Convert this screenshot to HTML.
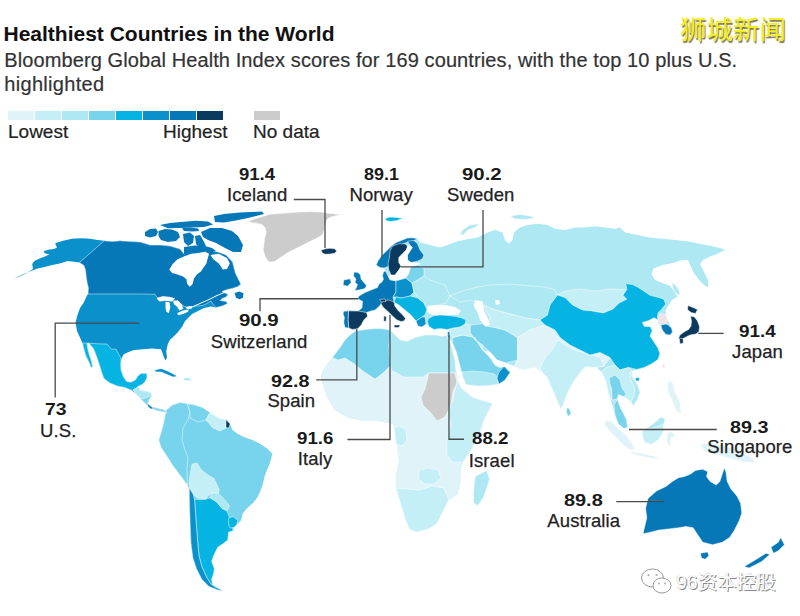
<!DOCTYPE html>
<html><head><meta charset="utf-8"><style>
html,body{margin:0;padding:0;background:#fff;}
body{width:800px;height:616px;position:relative;overflow:hidden;font-family:"Liberation Sans",Arial,sans-serif;color:#1a1a1a;}
.t{position:absolute;white-space:nowrap;}
.num{font-weight:bold;font-size:17px;line-height:1;color:#1a1a1a;}
.nm{font-size:18.5px;line-height:1;color:#222;letter-spacing:0.1px;-webkit-text-stroke:0.25px #222;}
svg{position:absolute;left:0;top:0;}
</style></head><body>
<svg width="800" height="616" viewBox="0 0 800 616">
<g id="map" stroke="none">
<polygon fill="#0a90cb" points="55.5,243.0 63.0,240.8 72.0,238.8 81.0,238.2 90.0,238.8 97.5,240.0 104.2,240.8 112.5,241.5 120.0,240.8 130.0,241.5 140.0,242.0 150.0,245.0 160.0,245.0 170.0,246.0 180.0,249.0 184.0,254.0 190.0,252.0 200.0,250.0 210.0,251.0 218.0,252.0 226.0,255.0 232.5,262.0 235.3,273.0 238.0,278.5 240.8,284.0 238.0,286.5 232.0,288.5 227.0,289.5 222.0,291.5 225.0,293.0 228.0,294.5 226.0,297.0 222.0,298.5 220.0,300.5 226.0,301.5 227.5,303.5 222.0,306.0 216.0,307.5 211.0,306.5 204.0,308.0 198.0,311.0 192.0,314.0 188.0,318.0 185.0,321.0 182.5,326.0 178.0,332.0 172.0,338.0 170.0,339.5 167.8,344.0 166.2,351.5 167.0,357.5 165.5,360.5 164.0,357.5 162.5,353.0 161.0,349.2 152.0,348.5 143.0,349.2 134.0,350.0 128.0,352.2 123.5,354.5 121.2,359.0 120.5,365.0 121.2,371.0 123.5,377.0 126.5,381.5 131.0,382.2 135.5,380.0 138.0,376.0 141.0,373.5 146.5,373.5 147.0,377.5 145.0,381.5 142.0,384.5 138.5,386.0 140.0,390.5 146.0,391.2 150.5,392.8 152.0,395.0 149.0,399.5 147.5,404.0 152.0,407.0 158.0,408.5 164.0,410.0 167.0,413.0 162.5,411.5 158.0,410.8 153.5,409.2 149.0,407.0 144.5,402.5 140.0,398.0 135.5,393.5 131.0,390.0 125.0,387.5 117.5,386.0 110.0,383.0 104.0,378.5 101.8,372.5 99.5,365.0 96.5,356.0 93.5,348.5 89.0,343.2 87.0,343.5 87.5,348.0 89.0,354.0 91.0,360.0 92.5,366.5 91.2,367.5 89.0,362.0 86.0,356.0 84.0,349.5 82.5,343.0 81.5,341.0 80.0,337.5 77.0,331.0 75.5,322.5 77.5,315.0 80.0,308.0 83.8,302.5 86.2,297.0 88.0,294.0 88.5,288.0 87.0,282.0 86.2,276.0 85.5,270.0 84.0,265.5 79.5,262.5 73.5,261.8 67.5,261.0 63.0,262.5 58.5,263.7 51.0,265.2 43.5,267.3 37.5,268.5 30.0,271.5 22.5,274.5 15.0,278.2 13.5,279.0 19.5,276.5 27.0,273.0 33.0,269.0 32.2,264.0 34.5,261.0 39.0,258.8 45.0,256.5 49.5,254.2 45.0,253.5 43.5,251.2 48.0,249.8 54.0,249.0 57.0,247.5 55.5,244.5"/>
<polygon fill="#0678b8" stroke="#fff" stroke-width="0.6" stroke-opacity="0.8" stroke-linejoin="round" points="104.2,240.8 112.5,241.5 120.0,240.8 130.0,241.5 140.0,242.0 150.0,245.0 160.0,245.0 170.0,246.0 180.0,249.0 184.0,254.0 190.0,252.0 200.0,250.0 210.0,251.0 218.0,252.0 226.0,255.0 232.5,262.0 235.3,273.0 238.0,278.5 240.8,284.0 238.0,286.5 232.0,288.5 227.0,289.5 222.0,291.5 225.0,293.0 228.0,294.5 226.0,297.0 222.0,298.5 220.0,300.5 226.0,301.5 227.5,303.5 222.0,306.0 216.0,307.5 213.0,304.0 211.0,301.0 208.0,303.0 203.0,305.5 197.0,306.0 192.0,307.0 186.0,307.0 182.0,305.0 178.0,302.0 175.0,301.0 172.0,299.0 165.0,297.0 157.0,297.5 155.0,294.3 140.0,294.0 120.0,294.0 100.0,294.0 88.0,294.0 88.5,288.0 87.0,282.0 86.2,276.0 85.5,270.0 84.0,265.5 79.5,262.5"/>
<polygon fill="#06b4e4" stroke="#fff" stroke-width="0.6" stroke-opacity="0.8" stroke-linejoin="round" points="89.0,343.2 98.0,343.8 107.0,344.0 111.5,349.2 116.0,349.2 120.5,357.5 121.2,359.0 120.5,365.0 121.2,371.0 123.5,377.0 126.5,381.5 131.0,382.2 135.5,380.0 138.0,376.0 141.0,373.5 146.5,373.5 147.0,377.5 145.0,381.5 142.0,384.5 138.5,386.0 137.0,388.0 133.0,390.0 131.0,390.0 125.0,387.5 117.5,386.0 110.0,383.0 104.0,378.5 101.8,372.5 99.5,365.0 96.5,356.0 93.5,348.5 89.0,343.2 87.0,343.5 87.5,348.0 89.0,354.0 91.0,360.0 92.5,366.5 91.2,367.5 89.0,362.0 86.0,356.0 84.0,349.5 82.5,343.0"/>
<polygon fill="#0678b8" points="145.0,232.0 150.0,229.0 156.0,228.5 158.0,232.0 156.0,236.0 150.0,237.5 145.0,236.0"/>
<polygon fill="#0678b8" points="158.5,231.0 165.0,229.0 172.0,229.5 178.0,232.0 180.0,237.0 176.0,241.0 168.0,242.0 161.0,240.0 158.5,236.0"/>
<polygon fill="#0678b8" points="183.0,234.0 190.0,232.5 194.0,236.0 193.0,243.0 188.0,246.0 184.0,242.0"/>
<polygon fill="#0678b8" points="201.0,232.0 210.0,228.0 222.0,228.0 232.0,231.0 238.0,236.0 243.0,245.0 241.0,252.0 233.0,252.0 225.0,248.0 216.0,243.0 208.0,240.0 203.0,237.0"/>
<polygon fill="#0678b8" points="214.0,216.0 224.0,214.0 240.0,212.4 262.0,211.6 264.0,214.0 248.0,218.0 236.0,220.5 224.0,222.5 215.0,222.0"/>
<polygon fill="#0678b8" points="160.0,225.0 170.0,223.0 184.0,221.8 196.0,220.8 208.0,221.5 213.0,224.5 204.0,227.0 192.0,227.5 180.0,228.0 168.0,228.2"/>
<polygon fill="#0678b8" points="182.0,228.0 190.0,227.5 198.0,228.5 199.0,231.0 192.0,231.5 184.0,231.0"/>
<polygon fill="#0678b8" points="195.0,236.0 200.0,235.0 203.0,240.0 206.0,246.0 200.0,248.0 196.0,244.0"/>
<polygon fill="#0678b8" points="184.0,247.0 195.0,245.5 205.0,246.0 212.0,248.0 216.0,251.0 210.0,253.0 204.0,252.0 198.0,253.0 190.0,254.0 184.0,254.0"/>
<polygon fill="#fff" points="169.3,269.6 172.7,264.1 177.5,259.3 184.4,256.2 191.3,253.8 198.1,253.1 205.0,251.7 209.1,253.8 207.8,257.9 206.4,263.4 203.6,267.5 200.9,271.6 196.8,274.4 194.0,278.5 192.6,284.0 189.9,286.8 187.1,284.0 186.5,279.2 183.0,276.5 177.5,274.4 172.0,273.0"/>
<polygon fill="#fff" points="210.5,255.1 218.8,253.8 227.0,257.9 229.8,263.4 227.0,268.9 222.9,269.6 218.8,263.4 213.3,259.3"/>
<polygon fill="#fff" points="156.5,298.5 162.4,296.2 169.3,296.8 175.0,298.3 172.3,301.5 165.1,300.8 159.6,301.5"/>
<polygon fill="#fff" points="165.5,301.7 169.5,302.3 170.3,307.4 168.8,313.2 166.3,311.8 165.5,307.4"/>
<polygon fill="#fff" points="173.2,301.0 177.7,300.2 181.9,304.4 183.3,308.8 179.6,310.5 176.6,306.2 173.9,304.2"/>
<polygon fill="#fff" points="177.3,313.0 183.0,310.5 188.8,309.2 188.0,311.8 183.2,313.9 178.0,315.3"/>
<polygon fill="#fff" points="185.6,307.2 189.9,306.0 192.9,306.5 191.5,308.7 187.0,309.0"/>
<polygon fill="#0678b8" points="234.6,292.9 239.4,291.5 243.5,293.3 242.9,297.8 239.4,299.3 236.0,297.8"/>
<polygon fill="#0a90cb" points="155.0,370.2 161.0,368.8 167.0,371.0 173.0,374.0 176.8,376.2 173.0,376.7 167.0,374.3 161.0,371.8 155.8,371.8"/>
<polygon fill="#aee8f2" points="183.5,378.3 188.0,378.0 191.0,379.0 190.0,380.5 185.0,380.5"/>
<polygon fill="#cccccc" stroke="#fff" stroke-width="0.6" stroke-opacity="0.8" stroke-linejoin="round" points="249.0,221.0 255.0,218.8 262.5,216.5 270.0,214.2 279.0,213.5 289.5,212.8 300.0,212.0 310.5,211.7 321.0,212.0 330.0,213.5 337.5,214.2 343.5,214.5 336.0,215.8 330.0,217.2 327.0,219.5 325.5,224.0 324.0,230.0 322.5,234.5 318.0,237.5 312.0,240.5 306.0,243.5 300.0,246.5 294.0,249.5 288.0,252.5 283.5,255.5 279.0,258.5 274.5,261.5 270.0,262.2 267.0,260.0 264.8,255.5 263.2,249.5 264.0,243.5 264.8,237.5 266.2,233.0 265.5,228.5 262.5,224.8 256.5,223.2 250.5,222.5"/>
<polygon fill="#0b3a5e" stroke="#fff" stroke-width="0.6" stroke-opacity="0.8" stroke-linejoin="round" points="321.0,250.2 325.5,248.8 330.0,248.3 334.5,248.8 336.8,251.0 334.5,253.2 330.0,254.0 325.5,254.3 322.5,253.2"/>
<polygon fill="#aee8f2" points="345.0,327.5 343.8,322.5 344.4,317.5 343.1,313.8 343.8,311.2 350.0,310.6 358.0,311.0 362.0,308.0 362.5,301.2 357.5,298.8 358.8,296.2 365.0,292.5 371.2,290.0 377.5,287.5 379.0,284.0 382.0,282.0 383.5,279.0 382.5,276.0 383.5,272.0 385.5,271.0 384.0,268.0 380.0,267.5 376.2,265.0 378.0,261.0 381.2,256.2 386.2,251.2 391.2,246.2 396.2,242.5 402.5,240.0 407.5,238.1 412.5,237.8 417.5,238.8 420.0,242.5 430.0,245.0 440.0,247.5 447.5,245.0 457.5,241.2 470.0,238.8 477.5,237.5 482.5,235.0 487.5,232.5 495.0,230.0 502.5,232.5 505.0,240.0 508.8,243.8 512.5,240.0 513.8,232.5 520.0,227.5 527.5,225.0 537.5,223.8 547.5,225.0 555.0,228.8 565.0,230.0 575.0,227.5 585.0,227.5 595.0,226.2 605.0,227.5 615.0,228.8 620.0,227.5 625.0,232.5 637.5,235.0 650.0,237.5 662.5,238.8 675.0,240.0 687.5,241.2 700.0,243.8 712.5,246.2 722.5,248.8 725.0,250.0 717.5,253.8 710.0,256.5 703.0,260.0 700.0,264.0 704.0,272.0 708.0,280.0 708.5,287.0 705.0,286.0 699.0,280.0 694.0,273.0 691.0,267.0 688.0,260.0 680.0,260.5 674.0,262.7 662.7,265.0 653.6,268.4 651.4,274.0 654.8,279.8 662.7,283.2 669.5,285.5 674.0,291.0 677.5,296.8 672.0,300.0 668.0,306.0 665.5,311.0 666.0,315.0 667.5,320.0 671.5,328.0 672.5,332.0 670.0,335.0 666.0,334.5 663.0,331.0 661.5,328.0 659.0,324.0 657.5,320.0 654.0,317.7 648.2,320.7 642.3,322.6 644.3,326.5 650.1,326.5 652.1,330.4 650.1,336.2 654.0,342.1 657.9,347.9 659.9,353.8 657.9,359.6 652.1,363.5 644.3,367.4 636.5,369.4 632.0,371.0 633.2,378.6 637.7,385.5 640.0,392.3 637.7,399.0 633.2,405.9 630.9,401.4 624.1,396.8 618.4,394.5 617.3,399.0 619.5,405.9 623.0,412.7 626.4,419.5 627.5,427.5 624.1,428.6 618.4,424.1 615.0,415.0 612.7,405.9 610.5,399.0 608.2,392.3 605.9,380.9 601.4,371.8 596.8,367.3 590.0,367.3 586.0,366.5 582.0,370.0 577.0,377.0 572.0,384.0 569.0,390.0 566.0,397.0 563.5,404.0 561.0,409.5 559.0,405.0 555.0,395.0 550.5,385.0 547.0,377.0 542.5,372.5 535.0,367.5 522.5,370.0 514.0,366.0 506.0,363.0 505.0,366.2 510.0,372.5 505.0,380.0 497.0,384.5 488.0,385.5 478.0,386.0 466.0,384.5 463.0,377.0 460.0,366.0 457.0,354.0 452.5,342.5 448.0,337.5 451.0,345.0 454.0,358.0 456.0,370.0 458.0,380.0 461.0,388.0 466.0,392.0 472.0,397.0 480.0,400.0 488.0,402.0 492.5,403.5 489.0,410.0 484.0,420.0 477.9,438.5 469.1,453.1 463.3,461.9 460.4,470.6 460.4,482.3 457.4,494.0 448.7,499.9 442.8,511.6 437.0,523.3 428.2,529.1 416.5,532.0 409.2,529.1 404.8,517.4 400.4,502.8 396.0,488.2 396.0,476.5 399.0,461.9 397.5,447.3 396.0,432.6 393.1,423.9 378.5,421.0 363.9,421.0 349.2,418.0 340.0,413.0 334.6,409.2 327.0,397.0 323.0,385.0 321.0,376.0 324.0,369.0 327.5,364.0 332.5,357.5 340.0,347.5 345.0,340.0 350.0,335.0 355.0,331.2 362.5,330.0 372.5,328.8 382.5,328.8 390.0,330.0 395.0,335.0 400.0,340.0 407.5,341.2 415.0,337.5 425.0,335.0 435.0,335.0 442.5,336.2 447.0,335.5 448.8,331.0 450.0,329.0 447.0,329.5 440.0,328.5 434.0,329.5 429.0,326.5 426.0,324.0 422.0,327.0 418.0,326.0 416.0,321.0 411.0,315.0 405.0,310.0 399.0,305.0 394.0,302.0 394.8,306.0 398.5,311.0 402.5,314.8 405.5,318.5 404.0,321.0 401.0,321.5 397.0,320.0 392.5,316.0 387.5,311.0 383.0,307.0 381.0,303.5 378.0,307.5 375.0,310.0 370.0,311.2 366.5,312.5 367.5,316.2 363.8,320.0 361.2,325.0 357.5,328.8 352.5,329.4 348.8,328.1"/>
<polygon fill="#e0f3f9" points="448.0,337.5 451.0,345.0 454.0,358.0 456.0,370.0 458.0,380.0 461.0,388.0 466.0,392.0 472.0,397.0 480.0,400.0 488.0,402.0 492.5,403.5 489.0,410.0 484.0,420.0 477.9,438.5 469.1,453.1 463.3,461.9 460.4,470.6 460.4,482.3 457.4,494.0 448.7,499.9 442.8,511.6 437.0,523.3 428.2,529.1 416.5,532.0 409.2,529.1 404.8,517.4 400.4,502.8 396.0,488.2 396.0,476.5 399.0,461.9 397.5,447.3 396.0,432.6 393.1,423.9 378.5,421.0 363.9,421.0 349.2,418.0 340.0,413.0 334.6,409.2 327.0,397.0 323.0,385.0 321.0,376.0 324.0,369.0 327.5,364.0 332.5,357.5 340.0,347.5 345.0,340.0 350.0,335.0 355.0,331.2 362.5,330.0 372.5,328.8 382.5,328.8 390.0,330.0 395.0,335.0 400.0,340.0 407.5,341.2 415.0,337.5 425.0,335.0 435.0,335.0 442.5,336.2 447.0,335.5"/>
<polygon fill="#78d3ec" stroke="#fff" stroke-width="0.6" stroke-opacity="0.8" stroke-linejoin="round" points="332.5,357.5 340.0,347.5 345.0,340.0 350.0,335.0 355.0,331.2 362.5,330.0 372.5,328.8 382.5,328.8 390.0,330.0 391.0,336.0 389.0,345.0 391.0,365.0 383.0,373.0 375.0,379.0 363.0,371.0 353.0,363.0 345.0,358.0 338.0,360.0"/>
<polygon fill="#aee8f2" stroke="#fff" stroke-width="0.6" stroke-opacity="0.8" stroke-linejoin="round" points="390.0,330.0 395.0,335.0 400.0,340.0 407.5,341.2 415.0,337.5 425.0,335.0 435.0,335.0 442.5,336.2 447.0,335.5 448.0,337.5 451.0,345.0 455.0,360.0 456.0,373.0 429.0,373.0 423.0,377.0 404.0,377.0 391.0,370.0 391.0,365.0 389.0,345.0 391.0,336.0"/>
<polygon fill="#cccccc" stroke="#fff" stroke-width="0.6" stroke-opacity="0.8" stroke-linejoin="round" points="429.0,373.0 455.0,373.0 457.0,383.0 453.0,391.0 451.0,405.0 445.0,417.0 437.0,421.0 431.0,413.0 423.0,405.0 421.0,397.0 425.0,389.0 427.0,381.0"/>
<polygon fill="#cccccc" stroke="#fff" stroke-width="0.6" stroke-opacity="0.8" stroke-linejoin="round" points="472.0,401.0 480.0,400.5 487.0,402.5 486.0,408.5 478.0,409.5"/>
<polygon fill="#c5eff6" stroke="#fff" stroke-width="0.6" stroke-opacity="0.8" stroke-linejoin="round" points="458.0,380.0 461.0,388.0 466.0,392.0 472.0,397.0 480.0,400.0 488.0,402.0 492.5,403.5 489.0,410.0 484.0,420.0 477.9,438.5 469.1,453.1 463.3,461.9 452.0,462.0 447.0,455.0 447.0,440.0 451.0,425.0 448.0,412.0 453.0,400.0 455.0,390.0"/>
<polygon fill="#c5eff6" stroke="#fff" stroke-width="0.6" stroke-opacity="0.8" stroke-linejoin="round" points="396.0,488.2 420.0,490.0 432.0,486.0 444.0,488.0 448.7,499.9 442.8,511.6 437.0,523.3 428.2,529.1 416.5,532.0 409.2,529.1 404.8,517.4 400.4,502.8"/>
<polygon fill="#c5eff6" stroke="#fff" stroke-width="0.6" stroke-opacity="0.8" stroke-linejoin="round" points="394.0,428.0 400.0,426.0 406.0,430.0 407.0,440.0 402.0,446.0 396.0,444.0 395.0,436.0"/>
<polygon fill="#c5eff6" stroke="#fff" stroke-width="0.6" stroke-opacity="0.8" stroke-linejoin="round" points="419.0,470.0 428.0,468.0 438.0,470.0 441.0,478.0 434.0,484.0 424.0,484.0 419.0,479.0"/>
<polygon fill="#aee8f2" stroke="#fff" stroke-width="0.6" stroke-opacity="0.8" stroke-linejoin="round" points="475.0,476.5 486.7,470.6 489.6,479.4 483.7,497.0 477.9,505.7 473.5,502.8 473.5,491.1"/>
<polygon fill="#78d3ec" stroke="#fff" stroke-width="0.6" stroke-opacity="0.8" stroke-linejoin="round" points="452.5,337.5 462.5,335.0 475.0,337.5 482.5,350.0 490.0,357.5 495.0,365.0 500.0,367.5 505.0,366.2 510.0,372.5 505.0,380.0 497.0,384.5 488.0,385.5 478.0,386.0 466.0,384.5 463.0,377.0 460.0,366.0 457.0,354.0 452.5,342.5"/>
<polygon fill="#aee8f2" stroke="#fff" stroke-width="0.6" stroke-opacity="0.8" stroke-linejoin="round" points="466.0,384.5 463.0,377.0 462.0,372.0 472.0,371.0 484.0,372.0 494.0,374.0 499.0,378.0 497.0,384.5 488.0,385.5 478.0,386.0"/>
<polygon fill="#0a90cb" stroke="#fff" stroke-width="0.6" stroke-opacity="0.8" stroke-linejoin="round" points="499.0,372.0 504.0,366.5 510.0,372.5 505.0,380.0 499.0,384.0 497.0,378.0"/>
<polygon fill="#78d3ec" stroke="#fff" stroke-width="0.6" stroke-opacity="0.8" stroke-linejoin="round" points="470.0,325.0 482.5,323.8 495.0,327.5 505.0,330.0 517.5,337.5 517.5,360.0 506.0,363.0 497.0,360.0 490.0,352.0 482.5,345.0 475.0,340.0 470.0,332.5"/>
<polygon fill="#c5eff6" stroke="#fff" stroke-width="0.6" stroke-opacity="0.8" stroke-linejoin="round" points="450.0,329.0 460.0,327.0 465.0,324.0 470.0,325.0 470.0,332.5 475.0,340.0 482.5,345.0 482.5,350.0 475.0,337.5 462.5,335.0 452.5,337.5 450.0,333.0"/>
<polygon fill="#06b4e4" stroke="#fff" stroke-width="0.6" stroke-opacity="0.8" stroke-linejoin="round" points="428.0,319.0 433.0,316.0 440.0,315.0 448.0,315.5 456.0,316.5 462.0,318.0 466.0,320.0 465.0,324.0 460.0,327.0 453.0,328.0 447.0,329.5 440.0,328.5 434.0,329.5 429.0,326.5 427.5,322.0"/>
<polygon fill="#0678b8" stroke="#fff" stroke-width="0.6" stroke-opacity="0.8" stroke-linejoin="round" points="447.5,332.0 449.5,331.5 450.0,336.0 448.0,338.0"/>
<polygon fill="#aee8f2" stroke="#fff" stroke-width="0.6" stroke-opacity="0.8" stroke-linejoin="round" points="450.0,296.0 462.0,291.0 475.0,287.5 490.0,285.0 510.0,284.0 530.0,286.0 545.0,287.0 555.0,290.0 557.5,295.0 550.0,305.0 547.5,315.0 540.0,320.0 525.0,318.0 510.0,314.0 495.0,310.0 482.5,305.0 470.0,300.0 460.0,302.0"/>
<polygon fill="#c5eff6" stroke="#fff" stroke-width="0.6" stroke-opacity="0.8" stroke-linejoin="round" points="482.5,305.0 495.0,310.0 510.0,314.0 525.0,318.0 540.0,320.0 545.0,325.0 530.0,330.0 517.5,337.5 505.0,330.0 495.0,327.5 485.0,326.0 490.0,318.0"/>
<polygon fill="#e0f3f9" stroke="#fff" stroke-width="0.6" stroke-opacity="0.8" stroke-linejoin="round" points="517.5,337.5 530.0,330.0 545.0,325.0 555.0,330.0 560.0,337.5 570.0,345.0 580.0,350.0 590.0,355.0 600.0,352.5 610.0,357.5 604.0,366.0 596.8,367.3 590.0,367.3 586.0,366.5 582.0,370.0 577.0,377.0 572.0,384.0 569.0,390.0 566.0,397.0 563.5,404.0 561.0,409.5 559.0,405.0 555.0,395.0 550.5,385.0 547.0,377.0 542.5,372.5 535.0,367.5 522.5,370.0 514.0,366.0 517.5,360.0"/>
<polygon fill="#c5eff6" stroke="#fff" stroke-width="0.6" stroke-opacity="0.8" stroke-linejoin="round" points="540.0,368.0 545.0,358.0 552.0,350.0 558.0,340.0 565.0,345.0 575.0,350.0 590.0,355.0 600.0,357.0 604.0,366.0 596.8,367.3 590.0,367.3 586.0,366.5 582.0,370.0 577.0,377.0 572.0,384.0 569.0,390.0 566.0,397.0 563.5,404.0 561.0,409.5 559.0,405.0 555.0,395.0 550.5,385.0 547.0,377.0 542.5,372.5"/>
<polygon fill="#c5eff6" stroke="#fff" stroke-width="0.6" stroke-opacity="0.8" stroke-linejoin="round" points="557.5,295.0 565.0,291.0 580.0,289.0 595.0,291.0 610.0,289.0 626.8,289.5 622.9,295.3 626.8,299.2 619.0,303.1 613.1,309.0 603.4,312.9 591.7,310.9 582.5,310.0 572.5,305.0 565.0,297.5"/>
<polygon fill="#06b4e4" stroke="#fff" stroke-width="0.6" stroke-opacity="0.8" stroke-linejoin="round" points="625.8,283.6 632.6,284.6 638.4,287.5 644.3,291.4 650.1,295.3 657.9,297.3 663.8,299.2 665.7,304.1 661.8,309.0 657.9,312.9 657.9,319.7 654.0,317.7 648.2,320.7 642.3,322.6 644.3,326.5 650.1,326.5 652.1,330.4 650.1,336.2 654.0,342.1 657.9,347.9 659.9,353.8 657.9,359.6 652.1,363.5 644.3,367.4 636.5,369.4 628.7,367.4 620.0,370.0 615.0,365.0 610.0,357.5 600.0,352.5 590.0,355.0 580.0,350.0 570.0,345.0 560.0,337.5 555.0,330.0 545.0,325.0 540.0,320.0 547.5,315.0 550.0,305.0 557.5,295.0 565.0,297.5 572.5,305.0 582.5,310.0 591.7,310.9 603.4,312.9 613.1,309.0 619.0,303.1 626.8,299.2 622.9,295.3 626.8,289.5"/>
<polygon fill="#f0e2e6" stroke="#fff" stroke-width="0.6" stroke-opacity="0.8" stroke-linejoin="round" points="657.5,316.0 661.0,313.5 666.0,315.0 667.5,320.0 666.0,324.0 661.0,325.0 658.5,321.0"/>
<polygon fill="#0678b8" stroke="#fff" stroke-width="0.6" stroke-opacity="0.8" stroke-linejoin="round" points="661.0,325.0 666.0,324.0 668.0,325.0 671.5,328.0 672.5,332.0 670.0,335.0 666.0,334.5 663.0,331.0 661.5,328.0"/>
<polygon fill="#c5eff6" stroke="#fff" stroke-width="0.6" stroke-opacity="0.8" stroke-linejoin="round" points="601.4,371.8 605.0,368.0 615.0,365.0 620.0,370.0 628.7,367.4 632.0,371.0 633.2,378.6 637.7,385.5 640.0,392.3 637.7,399.0 633.2,405.9 630.9,401.4 624.1,396.8 618.4,394.5 617.3,399.0 612.0,400.0 610.5,399.0 608.2,392.3 605.9,380.9"/>
<polygon fill="#78d3ec" stroke="#fff" stroke-width="0.6" stroke-opacity="0.8" stroke-linejoin="round" points="609.0,378.0 615.0,375.0 620.0,380.0 622.0,388.0 626.0,394.0 624.1,396.8 618.4,394.5 617.3,399.0 612.0,400.0 612.0,390.0 610.0,384.0"/>
<polygon fill="#aee8f2" stroke="#fff" stroke-width="0.6" stroke-opacity="0.8" stroke-linejoin="round" points="630.0,372.0 633.2,378.6 637.7,385.5 640.0,392.3 637.7,399.0 633.2,405.9 630.9,401.4 634.0,396.0 635.0,388.0 631.0,380.0"/>
<polygon fill="#78d3ec" stroke="#fff" stroke-width="0.6" stroke-opacity="0.8" stroke-linejoin="round" points="617.3,399.0 619.5,405.9 623.0,412.7 626.4,419.5 627.5,427.5 624.1,428.6 618.4,424.1 615.0,415.0 614.0,405.0"/>
<polygon fill="#0678b8" stroke="#fff" stroke-width="0.6" stroke-opacity="0.8" stroke-linejoin="round" points="343.8,311.2 350.0,310.6 358.0,311.0 362.0,308.0 362.5,301.2 357.5,298.8 358.8,296.2 365.0,292.5 371.2,290.0 377.5,287.5 379.0,284.0 382.0,282.0 383.5,279.0 382.5,276.0 383.5,272.0 385.5,271.0 388.0,276.0 390.0,280.0 396.0,281.0 396.0,292.0 393.0,297.0 394.0,302.0 381.5,303.5 378.0,307.5 375.0,310.0 370.0,311.2 366.5,312.5"/>
<polygon fill="#0b3a5e" stroke="#fff" stroke-width="0.6" stroke-opacity="0.8" stroke-linejoin="round" points="348.5,311.0 358.0,311.0 366.5,312.5 367.5,316.2 363.8,320.0 361.2,325.0 357.5,328.8 352.5,329.4 348.8,328.1 348.0,320.0"/>
<polygon fill="#0678b8" stroke="#fff" stroke-width="0.6" stroke-opacity="0.8" stroke-linejoin="round" points="343.8,311.2 348.5,311.0 348.0,320.0 348.8,328.1 345.0,327.5 343.8,322.5 344.4,317.5 343.1,313.8"/>
<polygon fill="#0b3a5e" stroke="#fff" stroke-width="0.6" stroke-opacity="0.8" stroke-linejoin="round" points="381.0,303.5 384.0,300.5 388.8,300.0 394.0,302.0 394.8,306.0 398.5,311.0 402.5,314.8 405.5,318.5 404.0,321.0 401.0,321.5 397.0,320.0 392.5,316.0 387.5,311.0 383.0,307.0"/>
<polygon fill="#0b3a5e" stroke="#fff" stroke-width="0.6" stroke-opacity="0.8" stroke-linejoin="round" points="379.5,299.5 385.0,299.0 386.0,301.5 381.0,302.0"/>
<polygon fill="#0a90cb" stroke="#fff" stroke-width="0.6" stroke-opacity="0.8" stroke-linejoin="round" points="396.0,281.0 406.0,278.0 412.0,283.0 414.0,292.0 410.0,296.0 402.0,298.0 396.0,297.0 393.0,297.0 396.0,292.0"/>
<polygon fill="#06b4e4" stroke="#fff" stroke-width="0.6" stroke-opacity="0.8" stroke-linejoin="round" points="394.0,302.0 396.0,297.0 402.0,298.0 410.0,296.0 418.0,298.0 424.0,303.0 427.0,309.0 425.0,315.0 422.0,317.0 416.0,321.0 411.0,315.0 405.0,310.0 399.0,305.0"/>
<polygon fill="#0a90cb" stroke="#fff" stroke-width="0.6" stroke-opacity="0.8" stroke-linejoin="round" points="416.0,321.0 422.0,317.0 425.0,317.0 426.0,324.0 422.0,327.0 418.0,326.0"/>
<polygon fill="#78d3ec" stroke="#fff" stroke-width="0.6" stroke-opacity="0.8" stroke-linejoin="round" points="406.0,278.0 409.0,273.0 410.0,269.0 412.0,266.0 418.0,265.0 424.0,268.0 424.0,276.0 414.0,283.0 412.0,283.0"/>
<polygon fill="#aee8f2" stroke="#fff" stroke-width="0.6" stroke-opacity="0.8" stroke-linejoin="round" points="412.0,283.0 424.0,276.0 430.0,280.0 445.0,285.0 450.0,296.0 446.0,303.0 435.0,306.0 427.0,309.0 424.0,303.0 418.0,298.0 414.0,292.0"/>
<polygon fill="#0678b8" stroke="#fff" stroke-width="0.6" stroke-opacity="0.8" stroke-linejoin="round" points="384.0,268.0 380.0,267.5 376.2,265.0 378.0,261.0 381.2,256.2 386.2,251.2 391.2,246.2 396.2,242.5 402.5,240.0 407.5,238.1 412.5,237.8 417.5,238.8 413.0,241.0 405.0,243.0 398.0,246.0 392.5,250.0 390.0,256.0 389.0,262.0 388.8,266.2"/>
<polygon fill="#0b3a5e" stroke="#fff" stroke-width="0.6" stroke-opacity="0.8" stroke-linejoin="round" points="392.5,246.2 398.8,243.8 405.0,243.8 407.5,246.2 406.2,250.0 402.5,253.8 398.8,257.5 398.8,262.5 401.2,266.2 398.8,270.0 395.0,275.0 391.2,275.0 388.8,270.0 388.1,263.8 389.4,257.5 390.0,251.2"/>
<polygon fill="#0678b8" stroke="#fff" stroke-width="0.6" stroke-opacity="0.8" stroke-linejoin="round" points="407.5,241.2 413.8,240.5 417.5,243.8 420.0,250.0 423.8,255.0 422.5,258.8 417.5,261.2 411.2,262.5 407.5,260.0 407.5,255.0 410.0,251.2 412.5,247.5 410.0,245.0"/>
<polygon fill="#fff" points="388.0,276.0 391.2,275.0 395.0,275.0 398.8,270.0 401.2,266.2 398.8,262.5 398.8,257.5 402.5,253.8 406.2,250.0 407.5,246.2 409.0,245.0 412.0,247.5 410.0,251.2 407.5,255.0 407.5,260.0 411.2,262.5 417.5,262.5 421.0,264.0 416.0,265.5 411.0,266.5 409.5,270.0 408.5,274.0 405.5,278.0 400.0,279.5 394.0,280.5 390.0,279.5"/>
<polygon fill="#fff" points="427.5,306.0 435.0,305.0 445.0,305.0 455.0,307.0 461.0,311.0 458.0,315.0 450.0,315.0 440.0,315.0 432.0,315.0 427.0,312.0"/>
<polygon fill="#fff" points="475.0,300.0 482.5,301.2 483.8,310.0 487.5,317.5 490.0,325.0 485.0,326.2 480.0,320.0 477.5,312.5 473.8,306.2"/>
<polygon fill="#fff" points="495.0,300.5 499.0,300.0 500.0,304.0 496.0,305.0"/>
<polygon fill="#fff" points="482.5,350.0 490.0,352.0 497.0,360.0 506.0,363.0 505.0,366.2 500.0,367.5 495.0,365.0 490.0,357.5"/>
<polygon fill="#0678b8" stroke="#fff" stroke-width="0.6" stroke-opacity="0.8" stroke-linejoin="round" points="354.0,272.0 358.0,272.5 360.5,275.0 361.0,279.0 363.5,282.0 366.5,285.5 365.0,288.5 359.0,290.0 354.5,290.5 356.5,287.5 357.5,284.5 355.0,282.5 356.0,279.0 353.5,276.0"/>
<polygon fill="#0678b8" stroke="#fff" stroke-width="0.6" stroke-opacity="0.8" stroke-linejoin="round" points="343.8,280.0 350.0,278.8 351.2,282.5 347.5,286.2 343.1,285.0"/>
<polygon fill="#0b3a5e" stroke="#fff" stroke-width="0.6" stroke-opacity="0.8" stroke-linejoin="round" points="383.8,316.2 386.2,316.2 386.2,321.2 383.8,321.2"/>
<polygon fill="#0b3a5e" stroke="#fff" stroke-width="0.6" stroke-opacity="0.8" stroke-linejoin="round" points="394.0,325.0 400.0,325.0 399.0,327.5 394.5,327.5"/>
<polygon fill="#06b4e4" stroke="#fff" stroke-width="0.6" stroke-opacity="0.8" stroke-linejoin="round" points="385.0,218.5 390.0,217.0 397.0,217.5 403.0,218.5 397.0,220.5 390.0,221.5 386.0,220.5"/>
<polygon fill="#aee8f2" stroke="#fff" stroke-width="0.6" stroke-opacity="0.8" stroke-linejoin="round" points="460.0,235.0 462.5,230.0 470.0,225.0 478.8,223.8 476.0,227.0 468.0,230.0 463.0,235.0"/>
<polygon fill="#aee8f2" stroke="#fff" stroke-width="0.6" stroke-opacity="0.8" stroke-linejoin="round" points="510.0,216.0 520.0,214.5 530.0,216.0 535.0,218.0 525.0,219.5 515.0,219.0"/>
<polygon fill="#aee8f2" stroke="#fff" stroke-width="0.6" stroke-opacity="0.8" stroke-linejoin="round" points="672.0,283.0 675.0,284.5 679.0,290.0 680.0,295.0 677.0,294.5 673.0,289.0"/>
<polygon fill="#0b3a5e" stroke="#fff" stroke-width="0.6" stroke-opacity="0.8" stroke-linejoin="round" points="688.0,305.5 693.0,307.5 697.5,309.5 695.5,313.5 691.0,312.5 687.5,309.5"/>
<polygon fill="#0b3a5e" stroke="#fff" stroke-width="0.6" stroke-opacity="0.8" stroke-linejoin="round" points="690.5,316.0 694.5,317.0 697.5,321.0 699.5,326.5 699.0,331.5 696.0,334.0 690.0,335.0 685.0,337.5 680.5,340.0 678.5,338.5 680.0,335.0 684.0,332.0 688.5,329.5 691.0,326.0 691.5,321.0"/>
<polygon fill="#0b3a5e" stroke="#fff" stroke-width="0.6" stroke-opacity="0.8" stroke-linejoin="round" points="679.4,338.5 683.0,338.5 683.3,343.0 680.0,344.0"/>
<polygon fill="#efd9de" stroke="#fff" stroke-width="0.6" stroke-opacity="0.8" stroke-linejoin="round" points="663.0,364.0 665.0,364.0 664.5,368.0 662.5,367.5"/>
<polygon fill="#06b4e4" stroke="#fff" stroke-width="0.6" stroke-opacity="0.8" stroke-linejoin="round" points="635.0,378.0 639.5,377.5 639.0,381.0 636.0,381.0"/>
<polygon fill="#78d3ec" stroke="#fff" stroke-width="0.6" stroke-opacity="0.8" stroke-linejoin="round" points="566.5,408.0 569.5,408.5 571.0,413.5 568.5,416.5 566.5,413.0"/>
<polygon fill="#e0f3f9" stroke="#fff" stroke-width="0.6" stroke-opacity="0.8" stroke-linejoin="round" points="606.0,419.5 612.0,422.5 619.0,428.5 626.0,435.5 632.0,443.0 635.0,449.0 630.0,450.0 624.0,445.5 617.0,438.5 610.0,431.5 604.5,424.5"/>
<polygon fill="#e0f3f9" stroke="#fff" stroke-width="0.6" stroke-opacity="0.8" stroke-linejoin="round" points="630.9,451.4 642.3,453.6 653.6,455.9 660.5,458.2 653.6,458.6 642.3,456.4 632.0,453.6"/>
<polygon fill="#c5eff6" stroke="#fff" stroke-width="0.6" stroke-opacity="0.8" stroke-linejoin="round" points="642.3,430.9 649.1,426.4 655.9,421.8 660.5,417.3 665.0,418.4 663.9,424.1 662.7,433.2 658.2,440.0 651.4,444.5 644.5,442.3 642.3,435.5"/>
<polygon fill="#aee8f2" stroke="#fff" stroke-width="0.6" stroke-opacity="0.8" stroke-linejoin="round" points="649.1,426.4 655.9,421.8 660.5,417.3 665.0,418.4 663.9,424.1 656.0,427.0 650.0,429.0"/>
<polygon fill="#e0f3f9" stroke="#fff" stroke-width="0.6" stroke-opacity="0.8" stroke-linejoin="round" points="667.0,433.0 672.0,432.0 676.0,436.0 671.0,438.0 670.0,447.0 667.0,443.0"/>
<polygon fill="#e0f3f9" stroke="#fff" stroke-width="0.6" stroke-opacity="0.8" stroke-linejoin="round" points="667.0,382.0 672.0,381.0 675.0,392.0 680.0,402.0 681.0,414.0 676.0,411.0 672.0,400.0 668.0,392.0"/>
<polygon fill="#e0f3f9" stroke="#fff" stroke-width="0.6" stroke-opacity="0.8" stroke-linejoin="round" points="700.0,444.0 712.0,443.0 725.0,446.0 740.0,451.0 752.0,458.0 755.0,463.0 745.0,462.0 732.0,459.0 718.0,455.0 705.0,452.0"/>
<polygon fill="#0678b8" stroke="#fff" stroke-width="0.6" stroke-opacity="0.8" stroke-linejoin="round" points="648.0,498.5 656.5,491.1 666.3,486.3 672.4,481.4 678.5,477.7 684.5,476.5 690.6,474.1 695.5,470.4 702.8,469.2 707.7,471.7 706.5,476.5 710.1,481.4 716.2,485.1 719.9,481.4 722.3,474.1 724.2,468.0 725.9,471.7 727.2,481.4 730.8,488.7 736.9,496.0 740.6,503.3 741.8,513.1 739.3,520.4 734.5,530.1 729.6,537.4 722.3,542.3 712.5,544.7 702.8,542.3 697.9,535.0 693.1,527.7 685.8,526.5 678.5,527.7 668.7,528.9 659.0,530.1 649.2,532.5 643.1,533.8 644.4,527.7 646.8,517.9 645.6,508.2"/>
<polygon fill="#0678b8" stroke="#fff" stroke-width="0.6" stroke-opacity="0.8" stroke-linejoin="round" points="700.4,553.2 707.7,552.0 708.9,555.7 705.2,559.3 701.6,558.1"/>
<polygon fill="#0678b8" stroke="#fff" stroke-width="0.6" stroke-opacity="0.8" stroke-linejoin="round" points="771.0,547.2 778.3,542.3 780.7,537.4 784.4,544.7 778.3,550.8 773.4,553.2"/>
<polygon fill="#0678b8" stroke="#fff" stroke-width="0.6" stroke-opacity="0.8" stroke-linejoin="round" points="744.2,566.6 756.4,559.3 766.1,553.2 769.8,554.5 761.3,561.8 749.1,567.9"/>
<polygon fill="#78d3ec" points="166.2,410.0 172.5,405.0 180.0,402.5 187.5,403.8 195.0,405.0 202.5,407.5 210.0,412.5 217.5,417.5 225.0,420.0 230.0,423.8 232.5,430.0 237.5,433.8 245.0,437.5 252.5,440.0 260.0,443.8 267.5,448.8 272.5,453.8 270.0,462.5 265.0,475.0 262.5,485.0 260.0,492.0 257.5,497.0 253.6,502.5 247.3,507.9 242.9,513.2 241.0,520.4 236.6,524.8 233.9,527.5 233.0,531.0 228.6,532.0 227.7,540.0 223.2,543.6 217.9,547.1 216.0,550.7 213.4,556.1 211.6,561.4 214.3,568.6 213.4,573.9 211.6,579.3 212.5,584.6 223.2,590.9 217.9,590.0 208.9,586.4 201.8,579.3 196.4,568.6 192.9,557.9 191.0,543.6 190.2,525.7 189.6,507.9 189.3,490.0 187.5,485.0 180.0,475.0 172.5,465.0 166.2,455.0 161.2,447.5 158.8,440.0 161.2,432.5 163.8,422.5"/>
<polygon fill="#78d3ec" stroke="#fff" stroke-width="0.6" stroke-opacity="0.8" stroke-linejoin="round" points="166.2,410.0 172.5,405.0 180.0,402.5 187.5,403.8 190.0,412.0 188.0,420.0 183.0,428.0 182.0,440.0 185.0,450.0 188.0,458.0 187.0,468.0 187.5,485.0 180.0,475.0 172.5,465.0 166.2,455.0 161.2,447.5 158.8,440.0 161.2,432.5 163.8,422.5"/>
<polygon fill="#78d3ec" stroke="#fff" stroke-width="0.6" stroke-opacity="0.8" stroke-linejoin="round" points="187.5,403.8 195.0,405.0 202.5,407.5 210.0,412.5 206.0,420.0 198.0,422.0 190.0,418.0 190.0,412.0"/>
<polygon fill="#c5eff6" stroke="#fff" stroke-width="0.6" stroke-opacity="0.8" stroke-linejoin="round" points="210.0,412.5 217.5,417.5 225.0,420.0 226.0,428.0 220.0,431.0 213.0,428.0 206.0,420.0"/>
<polygon fill="#0b3a5e" stroke="#fff" stroke-width="0.6" stroke-opacity="0.8" stroke-linejoin="round" points="226.0,419.5 230.0,423.8 229.0,428.0 226.0,427.5"/>
<polygon fill="#c5eff6" stroke="#fff" stroke-width="0.6" stroke-opacity="0.8" stroke-linejoin="round" points="191.9,464.3 197.1,463.0 201.0,469.5 207.5,474.7 214.0,478.6 216.6,483.8 219.2,490.3 217.9,494.2 211.4,492.9 208.8,495.5 204.9,499.4 197.1,498.0 193.2,494.2 189.3,487.7 189.3,479.9 190.6,472.1"/>
<polygon fill="#aee8f2" stroke="#fff" stroke-width="0.6" stroke-opacity="0.8" stroke-linejoin="round" points="211.4,492.9 217.9,492.9 224.4,499.4 229.5,505.8 227.0,511.0 221.8,508.4 216.6,502.0 210.0,498.0"/>
<polygon fill="#06b4e4" stroke="#fff" stroke-width="0.6" stroke-opacity="0.8" stroke-linejoin="round" points="194.5,499.4 204.9,499.4 210.0,498.0 216.6,502.0 221.8,508.4 227.0,511.0 229.5,517.5 232.0,523.0 233.0,531.0 228.6,532.0 227.7,540.0 223.2,543.6 217.9,547.1 216.0,550.7 213.4,556.1 211.6,561.4 214.3,568.6 213.4,573.9 211.6,579.3 212.5,584.6 215.0,587.0 211.0,584.0 206.5,577.0 202.0,567.0 199.0,556.0 197.5,540.0 196.0,520.0"/>
<polygon fill="#06b4e4" stroke="#fff" stroke-width="0.6" stroke-opacity="0.8" stroke-linejoin="round" points="228.6,518.0 233.0,516.5 238.0,520.5 236.6,524.8 233.9,527.5 230.0,528.0 228.6,524.0"/>
<polygon fill="#0a90cb" stroke="#fff" stroke-width="0.6" stroke-opacity="0.8" stroke-linejoin="round" points="189.3,487.7 193.2,494.2 194.5,499.4 196.0,520.0 197.5,540.0 199.0,556.0 202.0,567.0 206.5,577.0 211.0,584.0 215.0,587.0 223.2,590.9 217.9,590.0 208.9,586.4 201.8,579.3 196.4,568.6 192.9,557.9 191.0,543.6 190.2,525.7 189.6,507.9 189.3,495.0"/>
<polygon fill="#78d3ec" stroke="#fff" stroke-width="0.6" stroke-opacity="0.8" stroke-linejoin="round" points="137.0,388.0 138.5,386.0 140.0,390.5 146.0,391.2 150.5,392.8 152.0,395.0 149.0,399.5 147.5,404.0 152.0,407.0 158.0,408.5 164.0,410.0 167.0,413.0 162.5,411.5 158.0,410.8 153.5,409.2 149.0,407.0 144.5,402.5 140.0,398.0 135.5,393.5 133.0,390.0"/>
<polygon fill="#aee8f2" stroke="#fff" stroke-width="0.6" stroke-opacity="0.8" stroke-linejoin="round" points="137.0,388.0 138.5,386.0 140.0,390.5 146.0,391.2 150.5,392.8 152.0,395.0 148.0,397.0 143.0,399.0 140.0,398.0 135.5,393.5 133.0,390.0"/>
<polygon fill="#0678b8" stroke="#fff" stroke-width="0.6" stroke-opacity="0.8" stroke-linejoin="round" points="147.5,403.5 150.0,405.5 153.5,408.5 151.0,409.0 148.0,406.5"/>
</g>
<path d="M192.6,306.7L200,303.5L208,300L216,296L224,292.5L232,289" stroke="#fff" stroke-width="1" fill="none"/>
<g id="leaders" stroke="#4a4a4a" stroke-width="1.3" fill="none"><path d="M293.75,199.5H325V248"/>
<path d="M382,210V257.5"/>
<path d="M483,210V266.9H401"/>
<path d="M260,311.25V298.75H358"/>
<path d="M316.2,379.9H356.8V329"/>
<path d="M347.4,439.5H390V315"/>
<path d="M464,439.25H449V336"/>
<path d="M698.25,333.4H723.7"/>
<path d="M629,429.5H716.75"/>
<path d="M616.25,501.6H664"/>
<path d="M139.3,323.2H55.2V397.5"/></g>
</svg>
<div class="t" style="left:3.5px;top:23px;font-weight:bold;font-size:21px;line-height:1;color:#111;">Healthiest Countries in the World</div>
<div class="t" style="left:4.3px;top:49.7px;font-size:20px;line-height:1;color:#333;letter-spacing:0.1px;-webkit-text-stroke:0.2px #333;">Bloomberg Global Health Index scores for 169 countries, with the top 10 plus U.S.</div>
<div class="t" style="left:4.3px;top:74.3px;font-size:20px;line-height:1;color:#333;letter-spacing:0.3px;-webkit-text-stroke:0.2px #333;">highlighted</div>
<div style="position:absolute;left:8px;top:110.5px;width:26px;height:9.5px;background:#e0f3f9"></div>
<div style="position:absolute;left:35px;top:110.5px;width:26px;height:9.5px;background:#c5eff6"></div>
<div style="position:absolute;left:62px;top:110.5px;width:26px;height:9.5px;background:#aee8f2"></div>
<div style="position:absolute;left:89px;top:110.5px;width:26px;height:9.5px;background:#78d3ec"></div>
<div style="position:absolute;left:116px;top:110.5px;width:26px;height:9.5px;background:#06b4e4"></div>
<div style="position:absolute;left:143px;top:110.5px;width:26px;height:9.5px;background:#0a90cb"></div>
<div style="position:absolute;left:170px;top:110.5px;width:26px;height:9.5px;background:#0678b8"></div>
<div style="position:absolute;left:197px;top:110.5px;width:26px;height:9.5px;background:#0b3a5e"></div>
<div style="position:absolute;left:254px;top:110.5px;width:26px;height:9.5px;background:#cccccc"></div>
<div class="t" style="left:8px;top:121.5px;font-size:19px;line-height:1;color:#222;-webkit-text-stroke:0.2px #222;">Lowest</div>
<div class="t" style="left:163px;top:121.5px;font-size:19px;line-height:1;color:#222;-webkit-text-stroke:0.2px #222;">Highest</div>
<div class="t" style="left:253px;top:121.5px;font-size:19px;line-height:1;color:#222;-webkit-text-stroke:0.2px #222;">No data</div>
<div class="t num" style="left:239px;top:165.5px;transform:scaleX(1.09);transform-origin:0 0;">91.4</div>
<div class="t nm" style="left:227.0px;top:185.5px;">Iceland</div>
<div class="t num" style="left:364px;top:165.5px;transform:scaleX(1.055);transform-origin:0 0;">89.1</div>
<div class="t nm" style="left:349.5px;top:185.5px;">Norway</div>
<div class="t num" style="left:461.5px;top:165.5px;transform:scaleX(1.2);transform-origin:0 0;">90.2</div>
<div class="t nm" style="left:447.0px;top:185.5px;">Sweden</div>
<div class="t num" style="left:239px;top:311.75px;transform:scaleX(1.2);transform-origin:0 0;">90.9</div>
<div class="t nm" style="left:210.75px;top:333px;">Switzerland</div>
<div class="t num" style="left:271.4px;top:372.6px;transform:scaleX(1.16);transform-origin:0 0;">92.8</div>
<div class="t nm" style="left:267.4px;top:391.5px;">Spain</div>
<div class="t num" style="left:45.1px;top:400.7px;transform:scaleX(1.14);transform-origin:0 0;">73</div>
<div class="t nm" style="left:40.0px;top:421.6px;">U.S.</div>
<div class="t num" style="left:296.7px;top:430.1px;transform:scaleX(1.1);transform-origin:0 0;">91.6</div>
<div class="t nm" style="left:297.8px;top:449.6px;">Italy</div>
<div class="t num" style="left:472px;top:430.2px;transform:scaleX(1.1);transform-origin:0 0;">88.2</div>
<div class="t nm" style="left:468.75px;top:451.5px;">Israel</div>
<div class="t num" style="left:739.2px;top:323.4px;transform:scaleX(1.11);transform-origin:0 0;">91.4</div>
<div class="t nm" style="left:732.1px;top:343.4px;">Japan</div>
<div class="t num" style="left:730.4px;top:418.5px;transform:scaleX(1.16);transform-origin:0 0;">89.3</div>
<div class="t nm" style="left:707.25px;top:437.6px;">Singapore</div>
<div class="t num" style="left:563.7px;top:491.75px;transform:scaleX(1.17);transform-origin:0 0;">89.8</div>
<div class="t nm" style="left:547.3px;top:512.4px;">Australia</div>

<div class="t" style="left:680px;top:16.75px;font-size:26.5px;line-height:1;font-family:'Liberation Sans','Noto Sans CJK SC',sans-serif;color:#f2ee1c;text-shadow:1px 1.5px 1px #77744a;">狮城新闻</div>
<svg style="position:absolute;left:0;top:0" width="800" height="616" viewBox="0 0 800 616">
<g fill="#fff" stroke="#9a9a9a" stroke-width="1">
<ellipse cx="652.5" cy="578" rx="11" ry="9"/>
<ellipse cx="662" cy="585.5" rx="9" ry="7.5"/>
</g>
<g fill="#aaa"><circle cx="648.5" cy="575" r="1.1"/><circle cx="656.5" cy="575" r="1.1"/><circle cx="659" cy="583.5" r="0.9"/><circle cx="665" cy="583.5" r="0.9"/></g>
</svg>
<div class="t" style="left:676px;top:572.5px;font-size:19.5px;line-height:1;font-family:'Liberation Sans','Noto Sans CJK SC',sans-serif;color:#fff;text-shadow:1px 1px 0 #8a8a8a,-0.5px -0.5px 0 #d0d0d0;">96资本控股</div>
</body></html>
